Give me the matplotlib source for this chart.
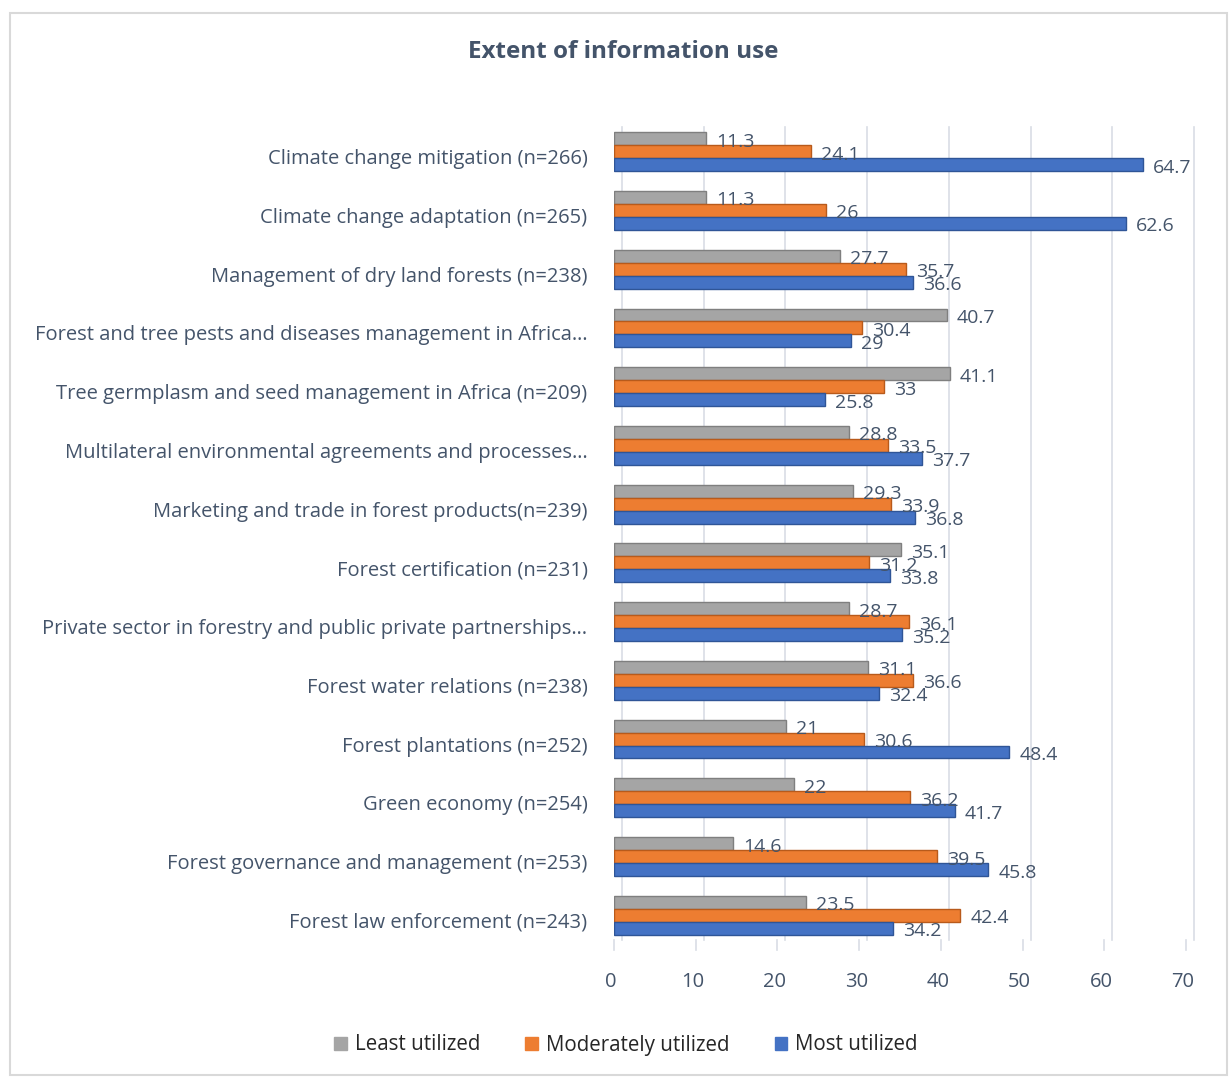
import matplotlib
matplotlib.use("Agg")
import matplotlib.pyplot as plt
from matplotlib.patches import Patch, Rectangle
from matplotlib.transforms import ScaledTranslation, blended_transform_factory
import numpy as np

plt.rcParams['font.family'] = ['Open Sans', 'DejaVu Sans']

categories = [
    "Climate change mitigation (n=266)",
    "Climate change adaptation (n=265)",
    "Management of dry land forests (n=238)",
    "Forest and tree pests and diseases management in Africa…",
    "Tree germplasm and seed management in Africa (n=209)",
    "Multilateral environmental agreements and processes…",
    "Marketing and trade in forest products(n=239)",
    "Forest certification (n=231)",
    "Private sector in forestry and public private partnerships…",
    "Forest water relations (n=238)",
    "Forest plantations (n=252)",
    "Green economy (n=254)",
    "Forest governance and management (n=253)",
    "Forest law enforcement (n=243)",
]
least = [11.3, 11.3, 27.7, 40.7, 41.1, 28.8, 29.3, 35.1, 28.7, 31.1, 21, 22, 14.6, 23.5]
moderate = [24.1, 26, 35.7, 30.4, 33, 33.5, 33.9, 31.2, 36.1, 36.6, 30.6, 36.2, 39.5, 42.4]
most = [64.7, 62.6, 36.6, 29, 25.8, 37.7, 36.8, 33.8, 35.2, 32.4, 48.4, 41.7, 45.8, 34.2]
series_names = ["Least utilized", "Moderately utilized", "Most utilized"]
xticks = [0, 10, 20, 30, 40, 50, 60, 70]

colors = ['#A5A5A5', '#ED7D31', '#4472C4']
edges = ['#7F7F7F', '#B85A1B', '#2F5597']
text_col = '#44546A'

W, H = 1231, 1078
fig = plt.figure(figsize=(W / 100, H / 100), dpi=100)
fig.patches.append(Rectangle((10 / W, 3 / H), (W - 14) / W, (H - 16) / H,
                             transform=fig.transFigure, fill=False,
                             edgecolor='#D9D9D9', linewidth=1.5))

ax = fig.add_axes([614 / W, (H - 940) / H, 572 / W, 813 / H])
y = np.arange(len(categories))
bh = 0.22
data = [least, moderate, most]
offs = [-bh, 0, bh]
for vals, off, c, ec in zip(data, offs, colors, edges):
    bars = ax.barh(y + off, vals, height=bh, color=c, edgecolor=ec, linewidth=1.0, zorder=3)
    for b, v in zip(bars, vals):
        ax.annotate(f"{v:g}", (b.get_width(), b.get_y() + b.get_height() / 2),
                    xytext=(10, -3), textcoords='offset pixels',
                    ha='left', va='center', fontsize=14, color=text_col, zorder=4)

ax.set_xlim(0, 70)
ax.set_ylim(len(categories) - 1 + 0.42, -0.42)
ax.set_yticks(y)
ax.set_yticklabels(categories, fontsize=14.5, color=text_col)
ax.set_xticks(xticks)
ax.set_xticklabels([str(t) for t in xticks], fontsize=14.5, color=text_col)
ax.tick_params(axis='y', length=0, pad=19)
ax.tick_params(axis='x', length=0, pad=23)
for lab in ax.get_yticklabels():
    lab.set_transform(lab.get_transform() + ScaledTranslation(0, -5 / 100, fig.dpi_scale_trans))
for lab in ax.get_xticklabels():
    lab.set_transform(lab.get_transform() + ScaledTranslation(-3 / 100, 0, fig.dpi_scale_trans))
for s in ax.spines.values():
    s.set_visible(False)

# back-wall gridlines (offset to mimic depth)
gtrans = blended_transform_factory(ax.transData, ax.transAxes) + ScaledTranslation(8 / 100, 0, fig.dpi_scale_trans)
for t in xticks:
    ax.plot([t, t], [0.0, 1.0], transform=gtrans, color='#D9DDE5', linewidth=1.2, zorder=1, clip_on=False)
    ax.plot([t, t], [0.0, -0.012], transform=blended_transform_factory(ax.transData, ax.transAxes),
            color='#D9DDE5', linewidth=1.2, zorder=1, clip_on=False)

fig.text(623 / W, 1 - 52 / H, "Extent of information use", ha='center', va='center',
         fontsize=17.5, fontweight='bold', color=text_col)

handles = [Patch(facecolor=c, edgecolor=c) for c in colors]
fig.legend(handles, series_names, loc='center', bbox_to_anchor=(626 / W, 1 - 1045 / H),
           ncol=3, frameon=False, fontsize=14.8, handlelength=0.6, handleheight=0.6,
           handletextpad=0.4, columnspacing=2.2, labelcolor='#262626')

fig.savefig("out.png", dpi=100)
